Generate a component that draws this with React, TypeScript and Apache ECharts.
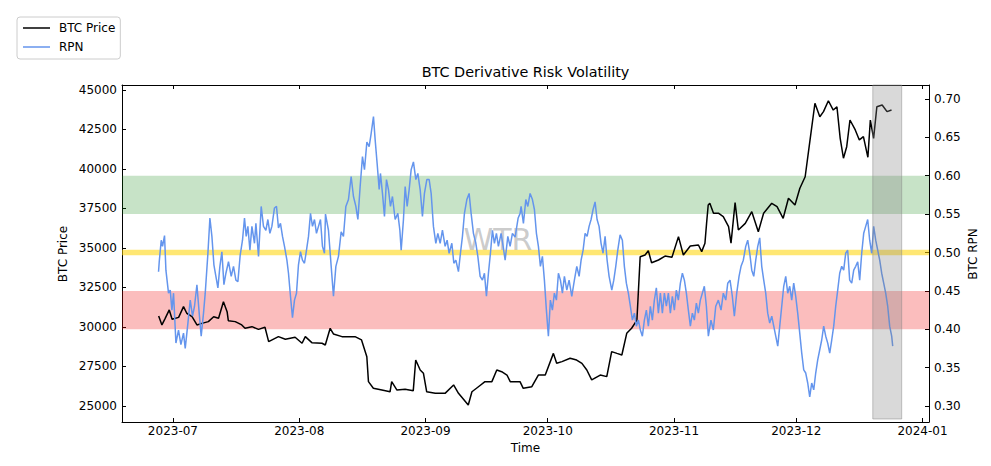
import React, { useEffect, useRef } from "react";
import * as echarts from "echarts";

// ---------- data (time as days since 2023-07-01) ----------
const BASE_DATE = [2023, 6, 1];
const xRangeDays = [-12.5, 185.6];
const monthTicks = ["2023-07", "2023-08", "2023-09", "2023-10", "2023-11", "2023-12", "2024-01"];
const priceTicks = [25000, 27500, 30000, 32500, 35000, 37500, 40000, 42500, 45000];
const rpnTicks = [0.3, 0.35, 0.4, 0.45, 0.5, 0.55, 0.6, 0.65, 0.7];
const priceRange = [23987, 45316];
const rpnRange = [0.2792, 0.7182];
const greenBand = [0.55, 0.6];
const redBand = [0.4, 0.45];
const yellowLevel = 0.5;
const highlightDays = [171.8, 178.9];

const priceDays = [
  -3.5, -2.7, -1.9, -0.9, -0.2, 1.4, 2.6, 3.4, 4.7, 5.9,
  7.1, 8.7, 10.0, 11.2, 12.4, 13.3, 13.6, 15.3, 16.9, 17.7,
  19.4, 21.0, 22.6, 23.5, 25.9, 27.6, 30.0, 31.7, 32.5, 34.1,
  36.6, 37.4, 38.6, 39.4, 41.5, 44.7, 46.3, 47.6, 48.0, 49.2,
  51.3, 53.3, 53.7, 55.0, 57.0, 59.0, 59.6, 60.7, 61.5, 62.3,
  64.4, 66.8, 68.9, 70.1, 72.5, 73.4, 75.0, 76.6, 78.3, 79.5,
  80.7, 82.0, 82.8, 85.2, 86.0, 88.1, 89.7, 91.4, 93.4, 94.2,
  95.5, 97.5, 99.1, 100.4, 101.6, 102.8, 104.9, 106.5, 107.7, 109.0,
  110.2, 111.4, 112.6, 113.9, 114.7, 115.9, 116.7, 117.5, 119.2, 120.8,
  122.5, 124.1, 125.3, 127.0, 129.0, 129.8, 130.6, 131.0, 131.4, 131.8,
  132.7, 133.9, 135.1, 136.4, 137.0, 138.0, 138.8, 140.5, 142.1, 143.7,
  145.0, 147.0, 148.3, 149.8, 151.1, 152.7, 153.9, 155.2, 156.4, 157.6,
  158.8, 159.7, 160.9, 162.1, 163.0, 163.8, 164.6, 165.4, 166.2, 167.5,
  168.5, 169.5, 170.6, 171.2, 172.0, 172.8, 174.1, 175.3, 176.4,
];
const priceValues = [
  30700, 30130, 30550, 31080, 30490, 30610, 31290, 30870, 30650, 30130,
  30230, 30340, 30650, 30550, 31600, 30970, 30400, 30340, 30130, 29920,
  30020, 29850, 29980, 29070, 29390, 29220, 29350, 28970, 29390, 29010,
  28970, 28860, 29920, 29560, 29390, 29390, 29180, 28120, 26540, 26120,
  26010, 25900, 26540, 26010, 26060, 25970, 27910, 27280, 27070, 25900,
  25800, 25800, 26330, 25800, 25060, 25900, 26220, 26540, 26540, 27280,
  27170, 26960, 26540, 26540, 26120, 26220, 26960, 26960, 28330, 27700,
  27810, 28020, 27910, 27700, 27280, 26650, 26960, 26860, 28440, 28330,
  28230, 29600, 29920, 30440, 34450, 34560, 34830, 34070, 34240, 34490,
  34410, 35720, 34560, 35130, 35190, 34770, 35300, 36560, 37720, 37830,
  37200, 37200, 36980, 36350, 35300, 37870, 36140, 36560, 37300, 36030,
  37200, 37830, 37620, 36880, 38150, 37720, 38780, 39510, 41840, 44160,
  43310, 43630, 44320, 43730, 43940, 41940, 40680, 41410, 43100, 42470,
  41840, 42050, 40740, 43100, 41940, 43940, 44050, 43630, 43730,
];

const rpnJulAug: [number, number][] = [
  [-3.53, 0.475], [-3.36, 0.488], [-2.87, 0.516], [-2.55, 0.508], [-2.06, 0.522], [-1.72, 0.477],
  [-1.08, 0.447], [-0.66, 0.451], [-0.25, 0.425], [0.15, 0.447], [0.74, 0.382], [1.37, 0.399],
  [1.96, 0.38], [2.6, 0.395], [3.02, 0.375], [3.68, 0.408], [4.25, 0.438], [4.81, 0.417],
  [5.3, 0.43], [5.89, 0.458], [6.45, 0.421], [6.94, 0.391], [7.51, 0.421], [7.93, 0.447],
  [8.59, 0.499], [9.08, 0.545], [9.57, 0.521], [10.06, 0.484], [10.55, 0.469], [11.04, 0.454],
  [11.53, 0.482], [12.02, 0.501], [12.52, 0.458], [13.01, 0.473], [13.64, 0.488], [14.31, 0.469],
  [14.87, 0.482], [15.46, 0.464], [15.95, 0.462], [16.52, 0.497], [17.08, 0.516], [17.57, 0.545],
  [17.99, 0.521], [18.4, 0.534], [18.9, 0.503], [19.39, 0.534], [20.02, 0.512], [20.37, 0.538],
  [21.01, 0.495], [21.67, 0.56], [22.23, 0.534], [22.82, 0.529], [23.31, 0.543], [23.8, 0.525],
  [24.29, 0.534], [24.93, 0.558], [25.42, 0.56], [25.91, 0.532], [26.4, 0.538], [26.9, 0.521],
  [27.39, 0.508], [27.98, 0.49], [28.37, 0.473], [28.86, 0.443], [29.35, 0.415], [29.84, 0.438],
  [30.33, 0.447], [30.82, 0.484], [31.31, 0.501], [31.8, 0.49], [32.29, 0.486], [32.79, 0.503],
  [33.28, 0.521], [33.77, 0.551], [34.26, 0.534], [34.75, 0.543], [35.24, 0.525], [35.73, 0.534],
  [36.22, 0.543], [36.71, 0.508], [37.2, 0.499], [37.45, 0.55], [38.18, 0.529], [38.85, 0.482],
  [39.41, 0.443], [40.0, 0.482], [40.64, 0.495], [41.3, 0.527], [41.86, 0.521], [42.45, 0.56],
  [43.09, 0.569], [43.75, 0.599], [44.32, 0.573], [44.91, 0.56], [45.4, 0.543], [45.96, 0.586],
  [46.53, 0.625], [47.02, 0.608], [47.61, 0.644], [48.17, 0.638], [48.66, 0.655], [49.23, 0.677],
  [49.64, 0.647], [50.13, 0.616], [50.63, 0.582], [50.94, 0.603], [51.44, 0.577], [51.93, 0.547],
  [52.42, 0.595], [52.91, 0.582], [53.4, 0.56], [53.89, 0.573], [54.55, 0.543], [55.21, 0.551],
  [55.71, 0.529], [56.03, 0.503], [56.59, 0.543], [57.01, 0.586], [57.5, 0.56], [57.99, 0.582],
  [58.48, 0.608], [59.04, 0.618], [59.63, 0.595], [60.12, 0.603], [60.69, 0.582], [61.25, 0.547],
  [61.74, 0.577],
];
const rpnSepOct: [number, number][] = [
  [62.33, 0.595], [62.9, 0.595], [63.39, 0.577], [63.95, 0.534], [64.54, 0.512], [65.03, 0.525],
  [65.6, 0.512], [66.16, 0.529], [66.82, 0.508], [67.31, 0.516], [67.8, 0.499], [68.47, 0.512],
  [68.96, 0.486], [69.45, 0.49], [70.09, 0.475], [70.58, 0.499], [71.07, 0.521], [71.56, 0.551],
  [72.15, 0.569], [72.71, 0.577], [73.2, 0.551], [73.77, 0.525], [74.36, 0.512], [74.85, 0.495],
  [75.41, 0.469], [75.98, 0.464], [76.47, 0.473], [76.96, 0.443], [77.45, 0.473], [77.94, 0.499],
  [78.43, 0.529], [78.92, 0.512], [79.41, 0.525], [79.9, 0.508], [80.56, 0.525], [81.06, 0.508],
  [81.55, 0.49], [82.21, 0.521], [82.77, 0.508], [83.34, 0.525], [84.0, 0.52], [84.75, 0.545],
  [85.23, 0.551], [85.47, 0.56], [86.04, 0.538], [86.63, 0.569], [87.12, 0.56], [87.68, 0.577],
  [88.25, 0.569], [88.74, 0.556], [89.23, 0.525], [89.72, 0.508], [90.21, 0.482], [90.7, 0.495],
  [91.19, 0.464], [91.68, 0.425], [92.17, 0.391], [92.66, 0.438], [93.15, 0.425], [93.64, 0.447],
  [94.14, 0.438], [94.63, 0.473], [95.12, 0.464], [95.61, 0.447], [96.1, 0.469], [96.69, 0.451],
  [97.25, 0.464], [97.91, 0.443], [98.55, 0.464], [99.14, 0.482], [99.71, 0.469], [100.2, 0.49],
  [100.69, 0.503], [101.18, 0.525], [101.67, 0.521], [102.16, 0.534], [102.65, 0.543], [103.14, 0.556],
  [103.63, 0.566], [104.12, 0.543], [104.61, 0.534], [105.1, 0.512], [105.59, 0.499], [106.09, 0.521],
  [106.58, 0.49], [107.07, 0.469], [107.73, 0.451], [108.22, 0.464], [108.71, 0.482], [109.2, 0.503],
  [109.77, 0.523], [110.33, 0.516], [110.82, 0.482], [111.31, 0.46], [111.8, 0.447], [112.29, 0.43],
  [112.79, 0.412], [113.28, 0.421], [113.77, 0.404], [114.26, 0.412], [114.75, 0.399], [115.24, 0.391],
  [115.73, 0.412], [116.22, 0.425], [116.71, 0.404], [117.2, 0.43], [117.69, 0.412], [118.18, 0.438],
  [118.67, 0.454], [119.17, 0.421], [119.66, 0.447], [120.15, 0.421], [120.64, 0.447], [121.13, 0.43],
  [121.62, 0.447], [122.11, 0.421], [122.6, 0.443],
];
const rpnNovDec: [number, number][] = [
  [123.09, 0.425], [123.58, 0.451], [124.07, 0.438], [124.57, 0.46], [125.06, 0.473], [125.55, 0.464],
  [126.04, 0.447], [126.53, 0.425], [127.02, 0.404], [127.51, 0.421], [128.0, 0.412], [128.49, 0.434],
  [128.98, 0.421], [129.47, 0.438], [129.96, 0.447], [130.45, 0.456], [130.95, 0.43], [131.44, 0.391],
  [132.07, 0.412], [132.66, 0.399], [133.25, 0.43], [133.89, 0.438], [134.55, 0.425], [135.11, 0.447],
  [135.71, 0.438], [136.2, 0.46], [136.76, 0.464], [137.32, 0.443], [137.82, 0.417], [138.4, 0.447],
  [138.97, 0.469], [139.46, 0.482], [140.02, 0.49], [140.61, 0.508], [141.1, 0.516], [141.6, 0.499],
  [142.09, 0.477], [142.58, 0.469], [143.07, 0.49], [143.56, 0.508], [144.05, 0.519], [144.54, 0.482],
  [145.03, 0.464], [145.52, 0.447], [146.01, 0.421], [146.5, 0.408], [147.0, 0.417], [147.49, 0.404],
  [147.98, 0.391], [148.47, 0.378], [148.96, 0.404], [149.45, 0.43], [149.94, 0.456], [150.43, 0.469],
  [150.92, 0.447], [151.41, 0.456], [151.9, 0.438], [152.39, 0.46], [152.88, 0.443], [153.37, 0.421],
  [153.87, 0.395], [154.36, 0.369], [154.85, 0.347], [155.34, 0.343], [155.83, 0.33], [156.32, 0.312],
  [156.81, 0.33], [157.3, 0.321], [157.79, 0.343], [158.28, 0.36], [158.77, 0.373], [159.26, 0.386],
  [159.75, 0.404], [160.25, 0.391], [160.74, 0.382], [161.23, 0.369], [161.72, 0.386], [162.21, 0.404],
  [162.7, 0.43], [163.19, 0.451], [163.68, 0.473], [164.17, 0.482], [164.66, 0.477], [165.15, 0.499],
  [165.64, 0.503], [166.13, 0.464], [166.63, 0.46], [167.12, 0.477], [167.61, 0.482], [168.1, 0.488],
  [168.59, 0.464], [169.08, 0.499], [169.57, 0.525], [170.06, 0.534], [170.55, 0.543], [171.04, 0.516],
  [171.53, 0.499], [172.02, 0.534], [172.52, 0.516], [173.01, 0.503], [173.5, 0.49], [173.99, 0.473],
  [174.48, 0.46], [174.97, 0.447], [175.46, 0.43], [175.95, 0.404], [176.44, 0.391], [176.69, 0.378],
];

// ---------- helpers ----------
const FONT = "DejaVu Sans";
const DAY_MS = 86400000;
const BASE_MS = Date.UTC(BASE_DATE[0], BASE_DATE[1], BASE_DATE[2]);
// month ticks expressed in days since the base date
const monthDays = monthTicks.map((m) => {
  const [y, mo] = m.split("-").map(Number);
  return Math.round((Date.UTC(y, mo - 1, 1) - BASE_MS) / DAY_MS);
});
const fmtMonth = (d: number) => {
  const dt = new Date(BASE_MS + Math.round(d) * DAY_MS);
  return `${dt.getUTCFullYear()}-${String(dt.getUTCMonth() + 1).padStart(2, "0")}`;
};

export default function App() {
  const ref = useRef<HTMLDivElement>(null);
  useEffect(() => {
    if (!ref.current) return;
    const chart = echarts.init(ref.current, null, { renderer: "svg" });
    const axisLine = { show: true, onZero: false, lineStyle: { color: "#000", width: 1 } };
    const tickStyle = { color: "#000", width: 1 };
    const labelStyle = { color: "#000", fontSize: 12, fontFamily: FONT };
    const pricePts = priceDays.map((d, i) => [d, priceValues[i]]);
    const rpnPts = [...rpnJulAug, ...rpnSepOct, ...rpnNovDec].map(([d, v]) => [d, v]);
    const halfYellow = 0.0037;

    chart.setOption({
      animation: false,
      textStyle: { fontFamily: FONT },
      grid: { left: 122, right: 62, top: 85, bottom: 44, containLabel: false },
      legend: {
        left: 17,
        top: 17,
        orient: "vertical",
        icon: "rect",
        itemWidth: 27,
        itemHeight: 1.5,
        itemGap: 7,
        padding: [5, 5, 6, 6],
        borderColor: "#cccccc",
        borderWidth: 1,
        borderRadius: 3,
        backgroundColor: "#fff",
        textStyle: { fontSize: 12, color: "#000", fontFamily: FONT, padding: [0, 0, 0, 4] },
        data: ["BTC Price", "RPN"],
      },
      xAxis: [
        {
          type: "value",
          min: xRangeDays[0],
          max: xRangeDays[1],
          position: "bottom",
          axisLine,
          axisTick: { show: true, inside: true, length: 4, lineStyle: tickStyle, customValues: monthDays },
          axisLabel: { ...labelStyle, margin: 3, customValues: monthDays, formatter: (v: number) => fmtMonth(v) },
          splitLine: { show: false },
        },
        {
          type: "value",
          min: xRangeDays[0],
          max: xRangeDays[1],
          position: "top",
          axisLine,
          axisTick: { show: true, inside: true, length: 4, lineStyle: tickStyle, customValues: monthDays },
          axisLabel: { show: false },
          splitLine: { show: false },
        },
      ],
      yAxis: [
        {
          type: "value",
          min: priceRange[0],
          max: priceRange[1],
          position: "left",
          axisLine,
          axisTick: { show: true, inside: true, length: 4, lineStyle: tickStyle, customValues: priceTicks },
          axisLabel: { ...labelStyle, margin: 5, customValues: priceTicks, formatter: (v: number) => String(v) },
          splitLine: { show: false },
        },
        {
          type: "value",
          min: rpnRange[0],
          max: rpnRange[1],
          position: "right",
          axisLine,
          axisTick: { show: true, inside: true, length: 4, lineStyle: tickStyle, customValues: rpnTicks },
          axisLabel: { ...labelStyle, margin: 5, customValues: rpnTicks, formatter: (v: number) => v.toFixed(2) },
          splitLine: { show: false },
        },
      ],
      graphic: [
        {
          type: "text",
          x: 525.5,
          y: 72,
          style: { text: "BTC Derivative Risk Volatility", fontSize: 14.4, fontFamily: FONT, fill: "#000", align: "center", verticalAlign: "middle" },
        },
        {
          type: "text",
          x: 63,
          y: 254,
          rotation: Math.PI / 2,
          style: { text: "BTC Price", fontSize: 12, fontFamily: FONT, fill: "#000", align: "center", verticalAlign: "middle" },
        },
        {
          type: "text",
          x: 973,
          y: 254,
          rotation: Math.PI / 2,
          style: { text: "BTC RPN", fontSize: 12, fontFamily: FONT, fill: "#000", align: "center", verticalAlign: "middle" },
        },
        {
          type: "text",
          x: 525.5,
          y: 447.5,
          style: { text: "Time", fontSize: 12, fontFamily: FONT, fill: "#000", align: "center", verticalAlign: "middle" },
        },
        {
          type: "text",
          x: 498,
          y: 239,
          z: 1,
          style: { text: "WTR", fontSize: 30, fontFamily: FONT, fill: "rgba(140,140,140,0.45)", align: "center", verticalAlign: "middle" },
        },
      ],
      series: [
        {
          name: "BTC Price",
          type: "line",
          xAxisIndex: 0,
          yAxisIndex: 0,
          data: pricePts,
          symbol: "none",
          showSymbol: false,
          color: "#000000",
          lineStyle: { color: "#000000", width: 1.5 },
          markArea: {
            silent: true,
            z: 10,
            itemStyle: { color: "rgba(128,128,128,0.3)", borderColor: "rgba(128,128,128,0.45)", borderWidth: 1 },
            data: [[{ xAxis: highlightDays[0], yAxis: 24177 }, { xAxis: highlightDays[1], yAxis: priceRange[1] }]],
          },
        },
        {
          name: "RPN",
          type: "line",
          xAxisIndex: 0,
          yAxisIndex: 1,
          data: rpnPts,
          symbol: "none",
          showSymbol: false,
          color: "#6495ED",
          lineStyle: { color: "#6495ED", width: 1.5 },
          markArea: {
            silent: true,
            data: [
              [{ yAxis: greenBand[0], itemStyle: { color: "rgba(0,128,0,0.22)" } }, { yAxis: greenBand[1] }],
              [{ yAxis: redBand[0], itemStyle: { color: "rgba(240,0,0,0.26)" } }, { yAxis: redBand[1] }],
              [{ yAxis: yellowLevel - halfYellow, itemStyle: { color: "rgba(255,212,0,0.55)" } }, { yAxis: yellowLevel + halfYellow }],
            ],
          },
        },
      ],
    });
    return () => chart.dispose();
  }, []);
  return <div ref={ref} style={{ position: "fixed", left: 0, top: 0, width: 991, height: 466, background: "#fff" }} />;
}
